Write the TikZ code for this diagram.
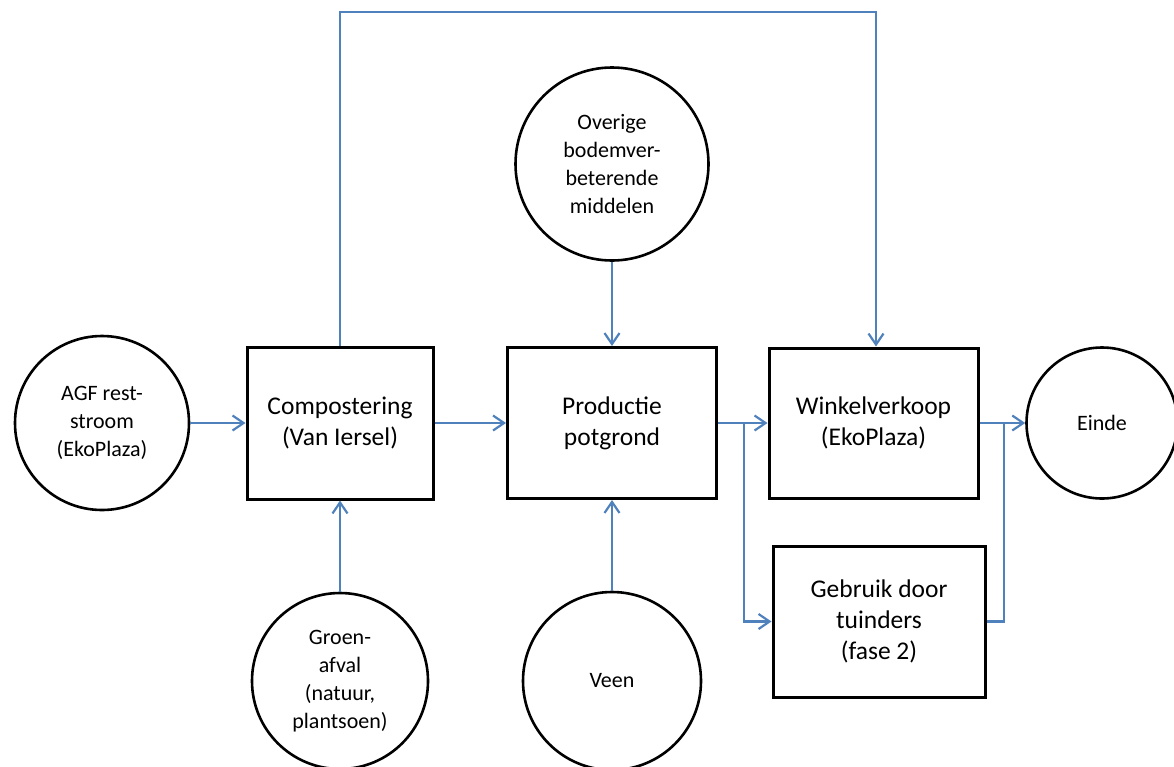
\documentclass[tikz,border=0pt]{standalone}
\usepackage{fontspec}
\setmainfont{Carlito}
\usetikzlibrary{arrows.meta}

\newcommand\boxtxt{\fontsize{25.5}{31}\selectfont}
\newcommand\circtxt{\fontsize{22}{28}\selectfont}
\definecolor{flowblue}{RGB}{79,129,189}

\begin{document}
\begin{tikzpicture}[x=1pt,y=-1pt,
        stepbox/.style={draw,line width=3pt,align=center,font=\boxtxt,inner sep=0pt},
        source/.style={draw,circle,line width=2.6pt,align=center,font=\circtxt,inner sep=0pt},
        flowline/.style={draw=flowblue,line width=2.2pt},
        flow/.style={flowline,-{Straight Barb[length=11pt,width=15pt,line width=2.2pt]}}]
        \clip (0,0) rectangle (1174,766);

        \node[source,minimum size=174] (agf) at (102,423) {AGF rest-\\stroom\\(EkoPlaza)};
        \node[stepbox,minimum width=186,minimum height=152] (comp) at (340,423) {Compostering\\(Van Iersel)};
        \node[stepbox,minimum width=209,minimum height=151] (prod) at (612,423) {Productie\\potgrond};
        \node[stepbox,minimum width=209,minimum height=150] (winkel) at (873.5,423) {Winkelverkoop\\(EkoPlaza)};
        \node[stepbox,minimum width=212,minimum height=151] (gebruik) at (879,621.5) {Gebruik door\\tuinders\\(fase 2)};
        \node[source,minimum size=151] (einde) at (1102,423) {Einde};

        \node[source,minimum size=193] (overige) at (612,164) {Overige\\bodemver-\\beterende\\middelen};
        \node[source,minimum size=176] (groen) at (340,681) {Groen-\\afval\\(natuur,\\plantsoen)};
        \node[source,minimum size=178] (veen) at (612,681) {Veen};

        \coordinate (topL) at (340,12);
        \coordinate (topR) at (876,12);
        \coordinate (split) at (744,423);
        \coordinate (merge) at (1004,423);

        \draw[flow] (agf.east) -- (comp.west);
        \draw[flow] (comp.east) -- (prod.west);
        \draw[flow] (prod.east) -- (winkel.west);
        \draw[flow] (split) |- (gebruik.west);
        \draw[flow] (winkel.east) -- (einde.west);
        \draw[flowline] (gebruik.east) -| (merge);

        \draw[flow] (comp.north) -- (topL) -- (topR) -- (topR |- winkel.north);
        \draw[flow] (overige.south) -- (prod.north);
        \draw[flow] (groen.north) -- (comp.south);
        \draw[flow] (veen.north) -- (prod.south);
    \end{tikzpicture}
\end{document}
